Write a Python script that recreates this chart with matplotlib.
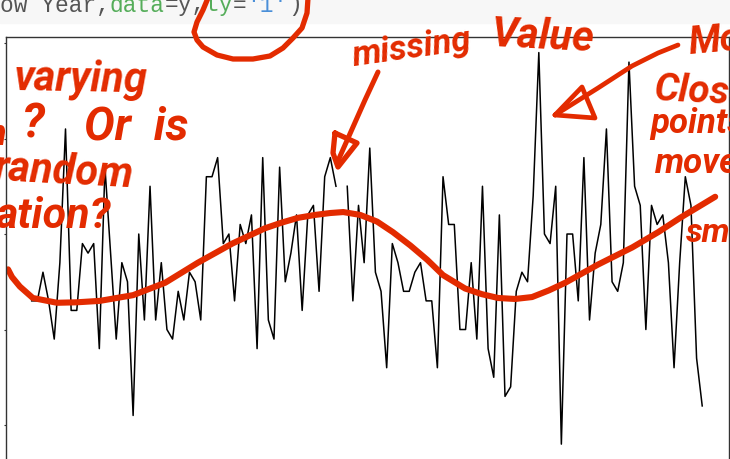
import numpy as np
import matplotlib
matplotlib.use('Agg')
import matplotlib.pyplot as plt

RED = '#e32b00'

# black line, one value per year, nan = the missing value
values = [13, 13, 16, 13, 9, 17, 31, 12, 12, 19,
          18, 19, 8, 27, 18, 9, 17, 15, 1, 20,
          11, 25, 11, 17, 10, 9, 14, 11, 16, 15,
          11, 26, 26, 28, 19, 20, 13, 21, 19, 22,
          8, 28, 11, 9, 27, 15, 18, 22, 12, 22,
          23, 14, 26, 28, 25, np.nan, 25, 13, 23, 17,
          29, 16, 14, 6, 19, 17, 14, 14, 16, 17,
          13, 13, 6, 26, 21, 21, 10, 10, 17, 9,
          25, 8, 5, 22, 3, 4, 14, 16, 15, 24,
          39, 20, 19, 25, -2, 20, 20, 13, 28, 11,
          18, 21, 31, 15, 14, 17, 38, 25, 23, 10,
          23, 21, 22, 17, 6, 17, 26, 23, 7, 2]
years = np.arange(1900, 1900 + len(values))

# hand drawn trend, read in data units
trend_years = [1895.8, 1896.5, 1897.9, 1900.2, 1904.5, 1908.0, 1912.1, 1918.0, 1923.7, 1929.5, 1935.6,
               1941.4, 1944.4, 1947.3, 1950.3, 1953.0, 1955.3, 1958.3, 1961.3, 1964.1, 1967.2, 1970.2, 1973.0,
               1976.9, 1979.9, 1982.8, 1985.8, 1988.8, 1991.8, 1994.7, 2000.5, 2006.6, 2011.2, 2015.1, 2021.3]
trend_values = [16.3, 15.5, 14.5, 13.3, 12.8, 12.85, 13.0, 13.6, 14.9, 17.0, 19.0,
                20.6, 21.2, 21.7, 22.0, 22.2, 22.3, 22.0, 21.3, 20.2, 18.8, 17.3, 15.7,
                14.3, 13.7, 13.3, 13.2, 13.4, 14.1, 14.9, 16.8, 18.6, 20.2, 21.7, 23.9]

y_ticks = [0, 10, 20, 30, 40]

# the notebook code line cut off at the top of the screenshot
code_parts = [('ow Year,', '#555555', 0), ('data', '#55ad5a', 8), ('=y,', '#555555', 12),
              ('ty', '#55ad5a', 15), ('=', '#555555', 17), ("'1'", '#4a8fd8', 18), (')', '#555555', 21)]

# ink: pen strokes in screen pixels
circle_x = [308, 307, 302, 293, 283, 270, 253, 233, 217, 203, 197, 194, 197, 203, 208]
circle_y = [-2, 13, 28, 38, 48, 56, 59, 59, 55, 47, 40, 32, 22, 10, -2]
arrow1_x = [378, 365, 337]
arrow1_y = [72, 100, 163]
head1_x = [335, 357, 338, 333, 335]
head1_y = [133, 143, 167, 153, 133]
arrow2_x = [678, 658, 632, 598, 555]
arrow2_y = [45, 53, 66, 88, 115]
head2_x = [555, 582, 595, 555]
head2_y = [115, 87, 118, 115]

notes = [('varying', 13, 90, -1, 30), ('?', 22, 138, 0, 34), ('Or  is', 84, 139, 0, 33),
         ('n', -14, 145, 0, 26), ('random', -6, 180, -3, 30), ('ation?', -4, 228, 0, 31),
         ('missing', 354, 66, 8, 25), ('Value', 490, 46, -3, 30),
         ('Mo', 690, 54, 5, 27), ('Close', 654, 100, -3, 28), ('points', 650, 133, 0, 25),
         ('move', 655, 173, 0, 25), ('sm', 686, 242, 0, 24)]

fig = plt.figure(figsize=(7.30, 4.59), dpi=100)

# axes runs past the bottom of the crop
ax = fig.add_axes([5.5 / 730, (459 - 459.5) / 459, (728.7 - 5.5) / 730, (459.5 - 37) / 459])
ax.plot(years, values, color='black', linewidth=1.1)
ax.plot(trend_years, trend_values, color=RED, linewidth=4.4, solid_capstyle='round', solid_joinstyle='round')
ax.set_xlim(1895.35, 2023.7)
ax.set_ylim(-3.61, 40.63)
ax.set_xticks([])
ax.set_yticks(y_ticks)
ax.set_yticklabels([])
ax.tick_params(axis='y', length=1.5, width=0.8, color='#333333')
for s in ax.spines.values():
    s.set_color('#333333')
    s.set_linewidth(1.0)

# overlay in pixels for the screenshot band and the scribbles
ink = fig.add_axes([0, 0, 1, 1])
ink.set_xlim(0, 730)
ink.set_ylim(459, 0)
ink.axis('off')
ink.patch.set_alpha(0)
ink.axhspan(0, 23, color='#f7f7f7', zorder=0)

for text, color, col in code_parts:
    ink.text(col * 13.7, 11.5, text, color=color, family='Liberation Mono', fontsize=16.44, va='baseline', clip_on=True)

for xs, ys, lw in [(circle_x, circle_y, 3.8), (arrow1_x, arrow1_y, 3.6), (head1_x, head1_y, 3.8),
                   (arrow2_x, arrow2_y, 3.4), (head2_x, head2_y, 3.4)]:
    ink.plot(xs, ys, color=RED, linewidth=lw, solid_capstyle='round', solid_joinstyle='round')

for text, x, y, rot, size in notes:
    ink.text(x, y, text, color=RED, fontsize=size, rotation=rot, rotation_mode='anchor', family='Roboto',
             fontweight='bold', style='italic', va='baseline', ha='left', clip_on=True)

fig.savefig('out.png', dpi=100)
